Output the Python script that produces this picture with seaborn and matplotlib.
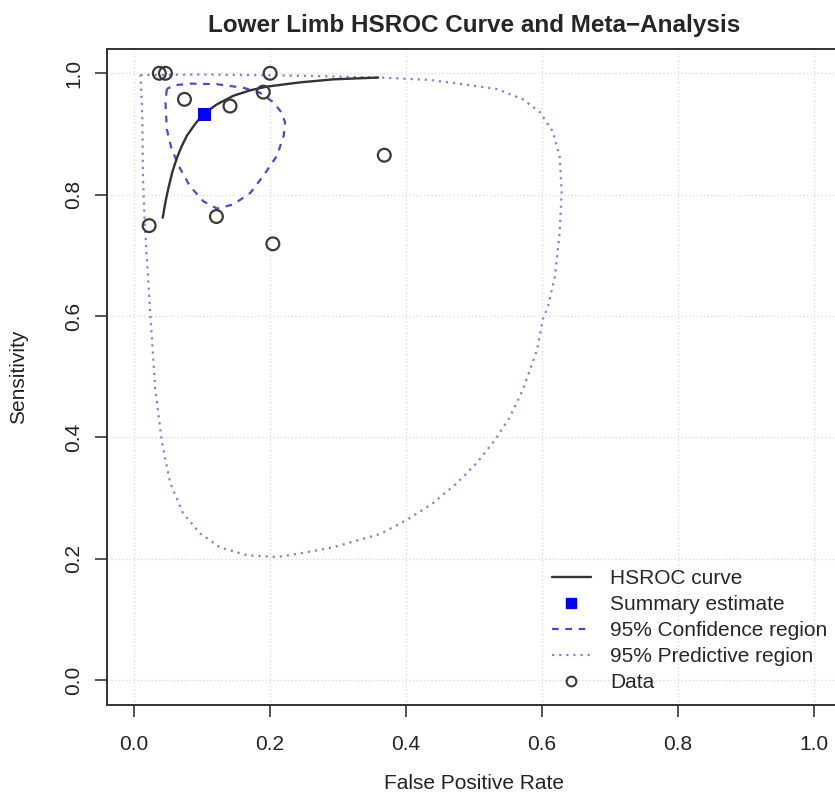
import numpy as np
import pandas as pd
import seaborn as sns
import matplotlib
matplotlib.use("Agg")
import matplotlib.pyplot as plt
from matplotlib.lines import Line2D

# study-level points (false positive rate, sensitivity)
data_fpr = [0.037, 0.046, 0.200, 0.074, 0.141, 0.190, 0.368, 0.121, 0.204, 0.022]
data_sens = [1.000, 1.000, 1.000, 0.957, 0.946, 0.969, 0.865, 0.764, 0.719, 0.749]

# summary estimate
summary_fpr = [0.103]
summary_sens = [0.933]

# HSROC curve
curve_fpr = [0.042, 0.046, 0.050, 0.056, 0.063, 0.070, 0.0775, 0.090, 0.103, 0.122, 0.146,
             0.171, 0.195, 0.244, 0.293, 0.359]
curve_sens = [0.762, 0.788, 0.809, 0.837, 0.861, 0.880, 0.897, 0.917, 0.934, 0.949, 0.963,
              0.972, 0.978, 0.985, 0.990, 0.993]

# 95% confidence region outline
conf_fpr = [0.048, 0.046, 0.048, 0.055, 0.068, 0.082, 0.102, 0.122, 0.146, 0.171, 0.190,
            0.210, 0.220, 0.222, 0.217, 0.205, 0.185, 0.161, 0.122, 0.082, 0.058, 0.048]
conf_sens = [0.974, 0.952, 0.908, 0.875, 0.842, 0.814, 0.789, 0.777, 0.784, 0.803, 0.831,
             0.864, 0.897, 0.919, 0.935, 0.952, 0.968, 0.976, 0.982, 0.983, 0.980, 0.974]

# 95% predictive region outline
pred_fpr = [0.009, 0.097, 0.244, 0.362, 0.435, 0.484, 0.534, 0.572, 0.597, 0.616, 0.626,
            0.629, 0.626, 0.619, 0.609, 0.601, 0.593, 0.572, 0.553, 0.531, 0.504, 0.475,
            0.440, 0.401, 0.362, 0.293, 0.244, 0.210, 0.166, 0.126, 0.097, 0.072, 0.053,
            0.041, 0.031, 0.024, 0.019, 0.016, 0.013, 0.012, 0.010, 0.009]
pred_sens = [0.997, 0.998, 0.996, 0.993, 0.989, 0.982, 0.974, 0.957, 0.936, 0.904, 0.863,
             0.804, 0.738, 0.665, 0.616, 0.594, 0.545, 0.479, 0.434, 0.396, 0.358, 0.325,
             0.292, 0.264, 0.241, 0.219, 0.209, 0.203, 0.206, 0.219, 0.242, 0.275, 0.325,
             0.391, 0.479, 0.599, 0.688, 0.743, 0.825, 0.924, 0.982, 0.997]

ticks = [0.0, 0.2, 0.4, 0.6, 0.8, 1.0]
tick_labels = ["0.0", "0.2", "0.4", "0.6", "0.8", "1.0"]

sns.set_style("white")
plt.rcParams['font.family'] = ['Liberation Sans', 'DejaVu Sans']

fig = plt.figure(figsize=(8.35, 7.92), dpi=100)
ax = fig.add_axes([107 / 835, 1 - 704.5 / 792, 734 / 835, 655.5 / 792])

conf_df = pd.DataFrame({'fpr': conf_fpr, 'sens': conf_sens})
pred_df = pd.DataFrame({'fpr': pred_fpr, 'sens': pred_sens})
curve_df = pd.DataFrame({'fpr': curve_fpr, 'sens': curve_sens})
pts_df = pd.DataFrame({'fpr': data_fpr, 'sens': data_sens})

sns.lineplot(data=pred_df, x='fpr', y='sens', sort=False, estimator=None, ax=ax,
             color='#8080e0', linestyle=(0, (1, 2.2)), linewidth=1.6)
sns.lineplot(data=conf_df, x='fpr', y='sens', sort=False, estimator=None, ax=ax,
             color='#4a4ad0', linestyle=(0, (3, 3)), linewidth=1.6)
sns.lineplot(data=curve_df, x='fpr', y='sens', sort=False, estimator=None, ax=ax,
             color='#333333', linewidth=1.7)
sns.scatterplot(data=pts_df, x='fpr', y='sens', ax=ax, marker='o', s=85,
                facecolor='none', edgecolor='#3a3a3a', linewidth=1.6, zorder=5)
sns.scatterplot(x=summary_fpr, y=summary_sens, ax=ax, marker='s', s=80,
                color='#0000ff', edgecolor='#0000ff', zorder=6)

ax.set_xlim(-0.04, 1.04)
ax.set_ylim(-0.04, 1.04)
ax.set_xticks(ticks)
ax.set_xticklabels(tick_labels)
ax.set_yticks(ticks)
ax.set_yticklabels(tick_labels, rotation=90, va='center')
ax.tick_params(axis='both', direction='out', length=8.6, width=1.3, color='#444444',
               labelsize=15, labelcolor='#222222', left=True, bottom=True)
ax.tick_params(axis='x', pad=13)
ax.tick_params(axis='y', pad=8.5)
ax.grid(True, linestyle=':', color='#dddddd', linewidth=1)
for s in ax.spines.values():
    s.set_color('#333333')
    s.set_linewidth(1.4)

ax.set_xlabel('False Positive Rate', fontsize=15, labelpad=15, color='#222222')
ax.set_ylabel('Sensitivity', fontsize=15, labelpad=26, color='#222222')
ax.set_title('Lower Limb HSROC Curve and Meta\u2212Analysis', fontsize=17.5,
             fontweight='bold', pad=12)

handles = [
    Line2D([], [], color='#333333', linewidth=1.7),
    Line2D([], [], color='#0000ff', marker='s', linestyle='none', markersize=7),
    Line2D([], [], color='#4a4ad0', linestyle=(0, (3, 3)), linewidth=1.6),
    Line2D([], [], color='#8080e0', linestyle=(0, (1, 2.2)), linewidth=1.6),
    Line2D([], [], color='#3a3a3a', marker='o', markerfacecolor='none',
           linestyle='none', markersize=7, markeredgewidth=1.5),
]
labels = ['HSROC curve', 'Summary estimate', '95% Confidence region',
          '95% Predictive region', 'Data']
ax.legend(handles, labels, loc='upper left', bbox_to_anchor=(552 / 835, 1 - 569 / 792),
          bbox_transform=fig.transFigure, frameon=False, fontsize=15,
          handlelength=1.85, handletextpad=0.95, labelspacing=0.34, borderpad=0,
          borderaxespad=0)

fig.savefig('out.png', dpi=100)
